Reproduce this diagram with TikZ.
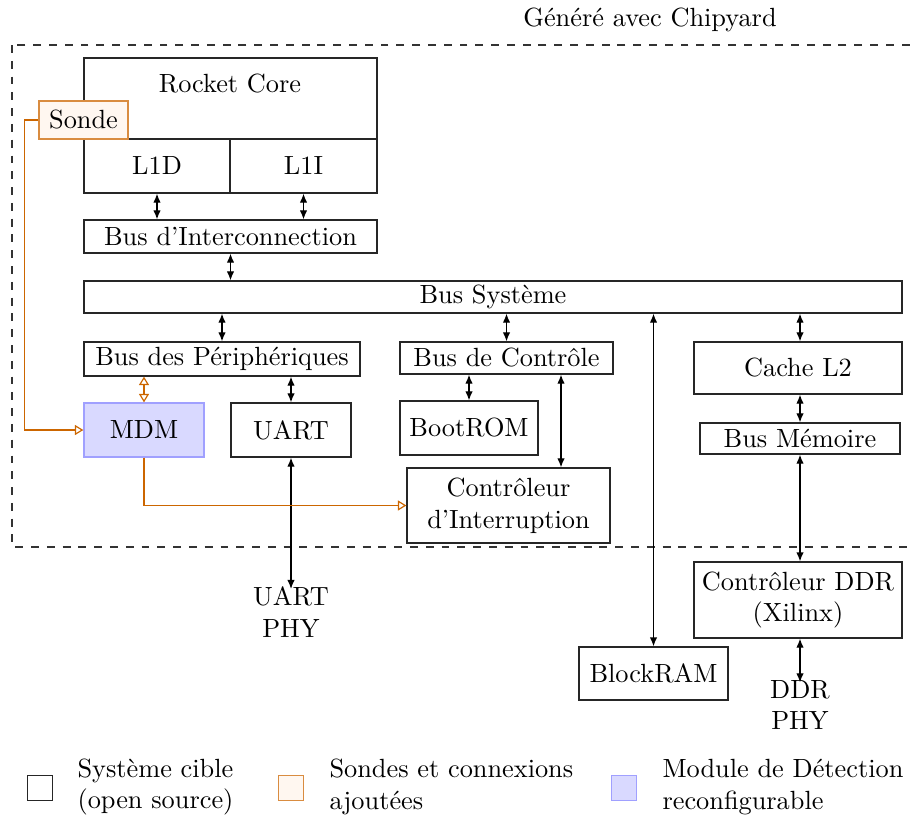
\documentclass[tikz,border=0pt]{standalone}
\usetikzlibrary{arrows.meta,calc}
\definecolor{probe}{RGB}{204,102,0}
\definecolor{mdmfill}{RGB}{217,217,255}
\definecolor{mdmdraw}{RGB}{160,160,255}
\begin{document}
\begin{tikzpicture}[x=0.38pt,y=-0.38pt,
  box/.style={draw=black!85, line width=0.5pt, inner sep=0pt, align=center},
  sondebox/.style={draw=probe!75, fill=orange!6, line width=0.5pt, inner sep=0pt},
  mdmbox/.style={draw=mdmdraw, fill=mdmfill, line width=0.5pt, inner sep=0pt},
  bi/.style={{Latex[length=3.4pt,width=2.8pt]}-{Latex[length=3.4pt,width=2.8pt]}, line width=0.45pt},
  pbi/.style={{Triangle[open,length=3.2pt,width=3.8pt]}-{Triangle[open,length=3.2pt,width=3.8pt]}, draw=probe, line width=0.45pt},
  pto/.style={-{Triangle[open,length=3.2pt,width=3.8pt]}, draw=probe, line width=0.45pt},
  plain/.style={inner sep=0pt, align=center}]
\useasboundingbox (0,0) rectangle (911,814);
\newcommand{\bx}[7]{\node[#1, minimum width={(#4-#2)*0.38pt}, minimum height={(#5-#3)*0.38pt}] (#6) at ({(#2+#4)/2},{(#3+#5)/2}) {#7};}
% title and dashed frame
\node[plain] (title) at (650,20) {Généré avec Chipyard};
\draw[dashed, draw=black!80, line width=0.45pt] (12,45) rectangle (914,547);
% core
\bx{box}{84}{58}{377}{139}{rocket}{}
\node[plain] (rockettxt) at (230,84) {Rocket Core};
\bx{box}{84}{139}{230}{193}{l1d}{L1D}
\bx{box}{230}{139}{377}{193}{l1i}{L1I}
\bx{sondebox}{39}{101}{128}{139}{sonde}{Sonde}
\bx{box}{84}{220}{377}{253}{busint}{Bus d’Interconnection}
\bx{box}{84}{281}{902}{313}{bussys}{Bus Système}
\bx{box}{84}{342}{360}{376}{busper}{Bus des Périphériques}
\bx{box}{400}{342}{613}{374}{busctl}{Bus de Contrôle}
\bx{box}{694}{342}{902}{394}{cache}{Cache L2}
\bx{mdmbox}{84}{403}{204}{457}{mdm}{MDM}
\bx{box}{231}{403}{351}{457}{uart}{UART}
\bx{box}{400}{401}{538}{455}{bootrom}{BootROM}
\bx{box}{407}{468}{610}{543}{intc}{Contrôleur\\d’Interruption}
\bx{box}{700}{423}{900}{454}{busmem}{Bus Mémoire}
\bx{box}{694}{562}{902}{638}{ddr}{Contrôleur DDR\\(Xilinx)}
\bx{box}{579}{647}{728}{700}{bram}{BlockRAM}
\node[plain] (uartphy) at (291,612) {UART\\PHY};
\node[plain] (ddrphy) at (800,705) {DDR\\PHY};
\coordinate (ci) at (561,0);
% connectors
\draw[bi] (l1d.south) -- (l1d.south |- busint.north);
\draw[bi] (l1i.south) -- (l1i.south |- busint.north);
\draw[bi] (busint.south) -- (busint.south |- bussys.north);
\draw[bi] (busper.north |- bussys.south) -- (busper.north);
\draw[bi] (busctl.north |- bussys.south) -- (busctl.north);
\draw[bi] (busmem.north |- bussys.south) -- (busmem.north |- cache.north);
\draw[bi] (bram.north |- bussys.south) -- (bram.north);
\draw[pbi] (mdm.north |- busper.south) -- (mdm.north);
\draw[bi] (uart.north |- busper.south) -- (uart.north);
\draw[bi] (bootrom.north |- busctl.south) -- (bootrom.north);
\draw[bi] (ci |- busctl.south) -- (ci |- intc.north);
\draw[bi] (busmem.north |- cache.south) -- (busmem.north);
\draw[bi] (busmem.south) -- (busmem.south |- ddr.north);
\draw[bi] (ddrphy.north |- ddr.south) -- ([yshift=-1pt]ddrphy.north);
\draw[bi] (uart.south) -- ([yshift=-1pt]uartphy.north);
\draw[pto] (sonde.west) -- ++(-14,0) |- (mdm.west);
\draw[pto] (mdm.south) |- (intc.west);
% legend
\node[box, minimum width=9.5pt, minimum height=9.5pt] (lg1) at (40,788) {};
\node[plain, anchor=west, align=left] (lt1) at (77,787) {Système cible\\(open source)};
\node[sondebox, minimum width=9.5pt, minimum height=9.5pt] (lg2) at (291,788) {};
\node[plain, anchor=west, align=left] (lt2) at (329,787) {Sondes et connexions\\ajoutées};
\node[mdmbox, minimum width=9.5pt, minimum height=9.5pt] (lg3) at (624,788) {};
\node[plain, anchor=west, align=left] (lt3) at (662,787) {Module de Détection\\reconfigurable};
\end{tikzpicture}
\end{document}
